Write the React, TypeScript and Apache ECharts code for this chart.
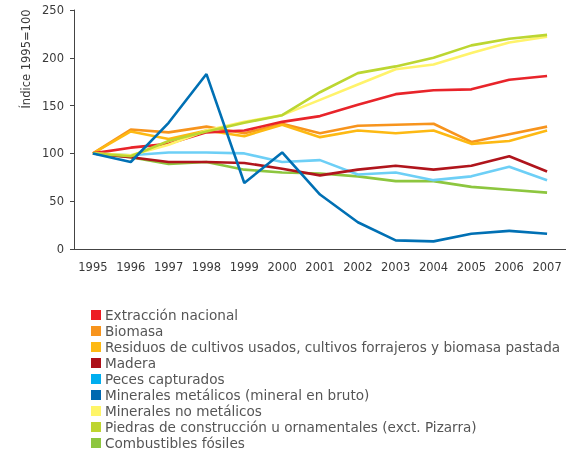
import React, { useEffect, useRef } from "react";
import * as echarts from "echarts";

const years = ["1995", "1996", "1997", "1998", "1999", "2000", "2001", "2002", "2003", "2004", "2005", "2006", "2007"];

const seriesNames = [
  "Extracción nacional",
  "Biomasa",
  "Residuos de cultivos usados, cultivos forrajeros y biomasa pastada",
  "Madera",
  "Peces capturados",
  "Minerales metálicos (mineral en bruto)",
  "Minerales no metálicos",
  "Piedras de construcción u ornamentales (exct. Pizarra)",
  "Combustibles fósiles",
];

const extraccion = [100, 106, 110, 122, 124, 133, 139, 151, 162, 166, 167, 177, 181];
const biomasa = [100, 125, 122, 128, 121, 131, 121, 129, 130, 131, 112, 120, 128];
const residuos = [100, 123, 115, 124, 118, 130, 117, 124, 121, 124, 110, 113, 124];
const madera = [100, 96, 91, 91, 90, 84, 77, 83, 87, 83, 87, 97, 81];
const peces = [100, 98, 101, 101, 100, 91, 93, 78, 80, 72, 76, 86, 72];
const metalicos = [100, 91, 132, 183, 69, 101, 57, 28, 9, 8, 16, 19, 16];
const noMetalicos = [100, 98, 109, 124, 133, 140, 156, 172, 188, 193, 205, 216, 222];
const piedras = [100, 97, 113, 123, 132, 140, 164, 184, 191, 200, 213, 220, 224];
const combustibles = [100, 96, 89, 91, 83, 80, 79, 76, 71, 71, 65, 62, 59];

const yTicks = { min: 0, max: 250, interval: 50 };

const colors = ["#e8242a", "#f7941d", "#fdb913", "#b0151c", "#6dcff6", "#0070b4", "#fff36b", "#bcd631", "#8dc63f"];
const legendColors = ["#ed1c24", "#f7941d", "#fdb913", "#ad1018", "#00aeef", "#0068b0", "#fff568", "#bed530", "#8dc63f"];

const allData = [extraccion, biomasa, residuos, madera, peces, metalicos, noMetalicos, piedras, combustibles];

export default function App() {
  const ref = useRef<HTMLDivElement>(null);
  useEffect(() => {
    if (!ref.current) return;
    const chart = echarts.init(ref.current, null, { renderer: "svg" });
    const font = "DejaVu Sans";
    const zOrder = [6, 3, 4, 5, 2, 9, 7, 8, 1];
    chart.setOption({
      animation: false,
      textStyle: { fontFamily: font },
      grid: { left: 74, top: 10, width: 494, height: 239, containLabel: false },
      legend: {
        orient: "vertical",
        left: 91,
        top: 307,
        itemWidth: 10,
        itemHeight: 10,
        itemGap: 0,
        icon: "rect",
        padding: 0,
        textStyle: { fontFamily: font, fontSize: 13.6, color: "#555", lineHeight: 16, padding: [0, 0, 0, -1] },
        data: seriesNames.map((n, i) => ({ name: n, itemStyle: { color: legendColors[i] } })),
      },
      xAxis: {
        type: "category",
        data: years,
        boundaryGap: true,
        axisLine: { lineStyle: { color: "#444", width: 1 } },
        axisTick: { show: false },
        axisLabel: { color: "#3a3a3a", fontSize: 11.5, fontFamily: font, margin: 12, interval: 0 },
        splitLine: { show: false },
      },
      yAxis: {
        type: "value",
        min: yTicks.min,
        max: yTicks.max,
        interval: yTicks.interval,
        axisLine: { show: true, lineStyle: { color: "#444", width: 1 } },
        axisTick: { show: true, length: 4, lineStyle: { color: "#444" } },
        axisLabel: { color: "#3a3a3a", fontSize: 11.5, fontFamily: font, margin: 10 },
        splitLine: { show: false },
      },
      graphic: [
        {
          type: "text",
          x: 26,
          y: 59,
          rotation: Math.PI / 2,
          style: {
            text: "Índice 1995=100",
            fontSize: 11.5,
            fontFamily: font,
            fill: "#3a3a3a",
            align: "center",
            verticalAlign: "middle",
          },
        },
      ],
      series: allData.map((d, i) => ({
        name: seriesNames[i],
        type: "line",
        data: d,
        symbol: "none",
        z: zOrder[i],
        lineStyle: { color: colors[i], width: 2.6 },
        itemStyle: { color: colors[i] },
      })),
    });
    return () => chart.dispose();
  }, []);
  return <div ref={ref} style={{ position: "fixed", left: 0, top: 0, width: 566, height: 453 }} />;
}
